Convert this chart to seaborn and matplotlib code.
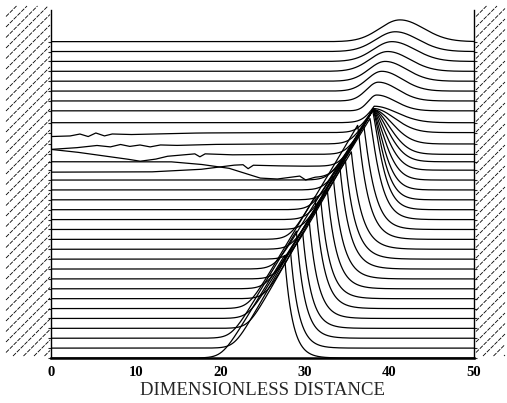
import numpy as np
import pandas as pd
import matplotlib
matplotlib.use("Agg")
import matplotlib.pyplot as plt
import seaborn as sns

sns.set_theme(style="white")
plt.rcParams['font.family'] = ['Liberation Serif', 'DejaVu Serif']

# ------------------------------------------------------------------ data
x_ticks = [0, 10, 20, 30, 40, 50]
x_label = "DIMENSIONLESS DISTANCE"

# baseline of every trace (units of trace spacing), bottom -> top
baselines = [0.0, 1.0, 2.0, 3.0, 4.0, 5.0, 6.0, 7.0, 8.0, 9.0, 10.0,
             11.0, 12.0, 13.0, 14.0, 15.0, 16.0, 17.0, 18.0, 19.0, 19.85,
             20.6, 21.65, 22.8, 23.8, 25.0, 26.0, 27.0, 28.0, 29.0, 30.0,
             31.0, 32.0]

# steep front of the pulse in each trace 0..24 (x where it leaves 0, slope)
front_x0 = [20.2, 21.0, 19.9, 21.3, 20.4, 19.8, 21.2, 20.3, 21.1, 20.0,
            21.4, 20.5, 19.9, 21.2, 20.4, 20.12, 21.32, 20.62, 19.86, 21.2,
            20.37, 20.97, 20.12, 20.86, 20.62]
front_slope = [1.40, 1.49, 1.41, 1.50, 1.39, 1.43, 1.48, 1.38, 1.50, 1.40,
               1.49, 1.39, 1.44, 1.50, 1.40, 1.40, 1.50, 1.44, 1.38, 1.49,
               1.42, 1.47, 1.40, 1.46, 1.44]
# position of each pulse crest
crest_x = [27.6, 28.3, 29.0, 29.75, 30.5, 31.2, 31.9, 32.65, 33.35, 34.1,
           34.8, 35.5, 36.25, 36.95, 37.7, 38.0, 38.05, 38.05, 38.05, 38.05,
           38.05, 38.05, 38.05, 38.1, 38.2]
# decay behind the crest
decay_len = [0.95, 0.97, 1.0, 1.02, 1.05, 1.08, 1.1, 1.12, 1.15, 1.18,
             1.2, 1.22, 1.25, 1.3, 1.35, 1.45, 1.6, 1.8, 2.05, 2.3,
             2.6, 2.9, 3.2, 3.5, 3.8]
decay_pow = [1.0, 1.0, 1.0, 1.0, 1.0, 1.0, 1.0, 1.0, 1.0, 1.0,
             1.0, 1.0, 1.05, 1.1, 1.15, 1.25, 1.35, 1.45, 1.55, 1.65,
             1.75, 1.85, 1.95, 2.0, 2.0]

# upper traces 25..32: smooth hump
hump_center = [38.5, 38.7, 39.1, 39.5, 39.8, 40.3, 40.7, 41.25]
hump_amp = [1.6, 1.9, 2.0, 2.0, 2.0, 2.0, 2.0, 2.2]
hump_sig_left = [1.0, 1.4, 1.7, 1.9, 2.1, 2.2, 2.3, 2.4]
hump_sig_right = [2.2, 2.3, 2.4, 2.5, 2.6, 2.7, 2.7, 2.8]

# irregular (noisy) left parts of a few traces, read as (x, y) points
noisy_19_x = [0.0, 11.7, 17.6, 21.5, 22.7, 23.3, 23.9, 25.9, 29.4]
noisy_19_y = [18.8, 18.82, 19.07, 19.5, 19.55, 19.15, 19.5, 19.45, 19.4]
noisy_20_x = [0.0, 14.1, 17.6, 21.0, 24.7, 26.7, 29.4, 30.1, 31.2]
noisy_20_y = [19.85, 19.85, 19.6, 19.2, 18.2, 18.1, 18.4, 18.0, 18.25]
noisy_21_x = [0.0, 2.8, 5.8, 8.8, 10.5, 12.3, 13.7, 15.8, 17.0, 17.6, 18.2,
              21.2, 27.1]
noisy_21_y = [21.1, 20.85, 20.5, 20.15, 19.9, 20.1, 20.4, 20.55, 20.65, 20.35,
              20.65, 20.55, 20.6]
noisy_22_x = [0.0, 2.8, 5.4, 7.0, 8.2, 9.3, 10.5, 11.7, 12.9, 14.7, 18.8,
              24.7]
noisy_22_y = [21.1, 21.25, 21.5, 21.35, 21.6, 21.4, 21.55, 21.35, 21.55, 21.5,
              21.6, 21.65]
noisy_23_x = [0.0, 2.2, 3.4, 4.4, 5.3, 6.3, 7.2, 9.3, 14.1, 17.6, 24.7]
noisy_23_y = [22.4, 22.45, 22.66, 22.4, 22.76, 22.46, 22.66, 22.6, 22.7, 22.76,
              22.8]
noisy_parts = {19: (noisy_19_x, noisy_19_y), 20: (noisy_20_x, noisy_20_y),
               21: (noisy_21_x, noisy_21_y), 22: (noisy_22_x, noisy_22_y),
               23: (noisy_23_x, noisy_23_y)}

# ------------------------------------------------------------------ build
x = np.linspace(0, 50, 2501)
W = 0.9
rows = []
for i, b in enumerate(baselines):
    if i < len(front_x0):
        if i in noisy_parts:
            px, py = noisy_parts[i]
            floor = np.interp(x, px, py)          # the traced noisy floor
        else:
            floor = np.full_like(x, b)
        x0, s = front_x0[i], front_slope[i]
        ramp = s * (x - x0)
        left = floor + W * np.logaddexp(0, (ramp - floor) / W)
        xa = crest_x[i]
        ia = min(np.searchsorted(x, xa), len(x) - 1)
        ya = left[ia]
        t = np.clip(x - xa, 0, None)
        right = b + (ya - b) * np.exp(-(t / decay_len[i]) ** decay_pow[i])
        y = np.where(x <= xa, left, right)
    else:
        k = i - len(front_x0)
        sig = np.where(x < hump_center[k], hump_sig_left[k], hump_sig_right[k])
        y = b + hump_amp[k] * np.exp(-0.5 * ((x - hump_center[k]) / sig) ** 2)
    rows.append(pd.DataFrame({"x": x, "y": y, "trace": str(i)}))
df = pd.concat(rows, ignore_index=True)

# ------------------------------------------------------------------ figure
fig = plt.figure(figsize=(5.07, 4.03), dpi=100)
ax = fig.add_axes([51 / 507, 45 / 403, 423 / 507, 348 / 403])
YMAX = 35.2
sns.lineplot(data=df, x="x", y="y", units="trace", estimator=None,
             sort=False, color="black", linewidth=0.9, ax=ax, legend=False)

ax.set_xlim(0, 50)
ax.set_ylim(0, YMAX)
ax.set_xticks(x_ticks)
ax.set_xticklabels([str(v) for v in x_ticks], fontweight="bold", fontsize=10.5)
ax.set_yticks(baselines)
ax.set_yticklabels([])
ax.tick_params(axis="x", direction="in", length=5, width=1.2, pad=6, colors="black")
ax.tick_params(axis="y", direction="out", length=2.5, width=0.8, left=True, right=True)
ax.set_xlabel(x_label, fontsize=13.5, labelpad=2)
ax.set_ylabel("")
for side in ["left", "right"]:
    ax.spines[side].set_visible(True)
    ax.spines[side].set_linewidth(1.0)
    ax.spines[side].set_color("black")
ax.spines["bottom"].set_linewidth(1.8)
ax.spines["bottom"].set_color("black")
ax.spines["top"].set_visible(False)

# hatched walls at both ends (drawn in pixel space, converted to data)
def px2data(px, py):
    return (px - 51) / 423 * 50, (358 - py) / 348 * YMAX

def hatch(xa, xb, ya, yb, step=10.5):
    h = ya - yb
    k = xa - h
    while k < xb:
        d0 = max(0, xa - k)
        d1 = min(h, xb - k)
        if d1 > d0:
            p0 = px2data(k + d0, ya - d0)
            p1 = px2data(k + d1, ya - d1)
            ax.plot([p0[0], p1[0]], [p0[1], p1[1]], color="black",
                    linewidth=0.6, linestyle=(0, (5, 1.5)), clip_on=False)
        k += step

hatch(6, 50, 356, 6)
hatch(476, 505, 356, 6)

fig.savefig("out.png", dpi=100)
